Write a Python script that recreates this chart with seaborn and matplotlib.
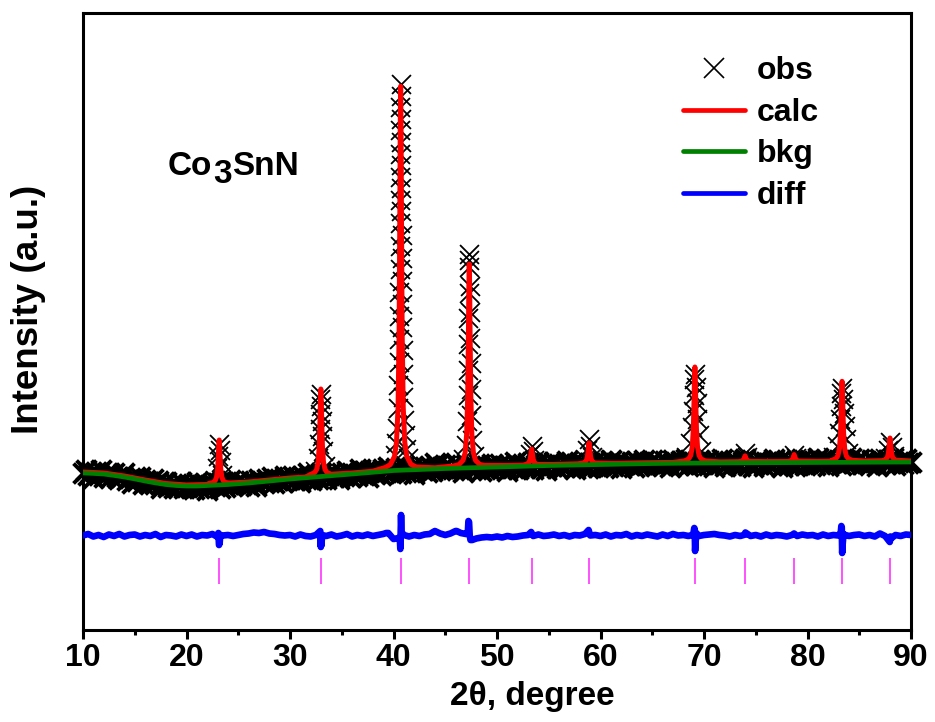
import numpy as np
import pandas as pd
import matplotlib
matplotlib.use("Agg")
import matplotlib.pyplot as plt
from matplotlib.lines import Line2D
from matplotlib.ticker import MultipleLocator
import seaborn as sns

# ---------------- data (intensity in arbitrary units) ----------------
# observed scan, coarse points along the whole range (10-90 deg, 0.25 deg step)
obs_scan_start, obs_scan_stop, obs_scan_step = 10.0, 90.0, 0.25
obs_scan_int = [
    157, 160, 155, 158, 152, 158, 155, 160, 153, 156, 157, 153, 157, 153, 151, 154, 157, 150, 152, 147,
    153, 149, 153, 146, 150, 148, 146, 151, 146, 149, 142, 147, 148, 143, 145, 142, 146, 143, 148, 142,
    143, 146, 144, 141, 148, 142, 145, 147, 140, 145, 146, 144, 147, 142, 148, 143, 146, 150, 145, 147,
    149, 145, 148, 146, 144, 149, 148, 144, 151, 149, 147, 151, 148, 153, 147, 150, 151, 148, 154, 150,
    151, 154, 150, 153, 148, 154, 151, 157, 150, 153, 155, 151, 157, 153, 151, 155, 158, 153, 155, 151,
    157, 154, 159, 153, 157, 156, 154, 161, 156, 159, 153, 159, 161, 156, 158, 155, 161, 158, 163, 157,
    159, 162, 160, 157, 164, 158, 161, 163, 156, 161, 162, 160, 163, 158, 164, 159, 167, 165, 160, 162,
    165, 160, 163, 161, 167, 164, 162, 158, 165, 163, 160, 164, 161, 166, 159, 162, 164, 161, 166, 162,
    163, 166, 161, 164, 159, 165, 162, 168, 161, 164, 166, 162, 167, 163, 161, 165, 168, 162, 164, 160,
    167, 164, 168, 162, 166, 165, 163, 169, 164, 167, 161, 166, 168, 163, 165, 162, 167, 164, 169, 163,
    165, 168, 166, 163, 170, 164, 167, 169, 162, 166, 167, 165, 168, 163, 169, 164, 166, 170, 165, 167,
    170, 165, 168, 166, 164, 169, 167, 163, 170, 168, 165, 169, 166, 171, 164, 167, 168, 165, 170, 166,
    167, 170, 165, 168, 163, 169, 166, 171, 164, 167, 169, 165, 170, 166, 164, 168, 171, 165, 167, 163,
    169, 166, 170, 164, 168, 167, 165, 171, 166, 169, 163, 168, 170, 165, 167, 164, 169, 166, 171, 165,
    167, 170, 168, 165, 172, 166, 169, 171, 164, 168, 169, 167, 170, 165, 171, 166, 168, 172, 167, 169,
    171, 166, 169, 167, 165, 170, 168, 164, 171, 169, 166, 170, 167, 172, 165, 168, 169, 166, 171, 167,
    168,
]

# observed points across the Bragg peaks
obs_peak_2theta = [
    # (100)
    22.75, 22.98, 23.07, 23.16, 23.22, 23.29, 23.41, 23.76,
    # (110)
    32.46, 32.71, 32.80, 32.86, 32.90, 32.94, 32.98, 33.04, 33.08, 33.13, 33.20, 33.35, 33.80,
    # (111)
    40.10, 40.25, 40.35, 40.42, 40.46, 40.50, 40.52, 40.54, 40.56, 40.58, 40.59, 40.60, 40.61,
    40.62, 40.63, 40.65, 40.66, 40.69, 40.71, 40.73, 40.74, 40.75, 40.76, 40.77, 40.79, 40.80,
    40.81, 40.83, 40.85, 40.87, 40.90, 40.94, 41.00, 41.07, 41.19, 41.37,
    # (200)
    46.73, 46.98, 47.09, 47.15, 47.19, 47.22, 47.24, 47.26, 47.29, 47.32,
    47.34, 47.37, 47.39, 47.42, 47.44, 47.48, 47.53, 47.63, 47.82,
    # (210)
    53.01, 53.20, 53.35, 53.46, 53.62,
    # (211)
    58.55, 58.74, 58.89, 59.00, 59.16,
    # (220)
    68.25, 68.67, 68.83, 68.92, 68.99, 69.06, 69.12, 69.22, 69.29, 69.36, 69.48, 69.74, 70.49,
    # (221)
    73.70, 73.97, 74.15,
    # (310)
    78.45, 78.71, 78.88,
    # (311)
    82.47, 82.89, 83.05, 83.14, 83.21, 83.28, 83.34, 83.44, 83.51, 83.58, 83.70, 83.96, 84.71,
    # (222)
    87.52, 87.77, 87.97, 88.12, 88.33,
]
obs_peak_int = [
    149.8, 161.6, 173.8, 186.0, 179.9, 167.7, 155.5, 147.5,
    159.3, 171.7, 186.5, 201.4, 216.2, 231.0, 236.0, 223.6, 208.8, 193.9, 179.1, 164.2, 156.0,
    175.4, 187.0, 202.5, 221.8, 245.0, 268.0, 291.0, 314.4, 337.6, 360.7, 383.9, 407.0, 430.2,
    453.4, 476.5, 499.7, 522.8, 546.0, 534.4, 511.3, 488.1, 465.0, 441.8, 418.6, 395.5, 372.3,
    349.1, 326.0, 302.8, 279.7, 256.5, 233.3, 210.2, 194.7, 181.2, 171.6,
    170.6, 185.5, 209.1, 234.8, 260.4, 286.1, 311.8, 337.5, 363.2, 376.0,
    369.6, 343.9, 318.2, 292.5, 266.9, 241.2, 215.5, 189.8, 173.8,
    168.4, 175.6, 184.0, 178.6, 170.2,
    170.9, 180.3, 191.0, 184.2, 173.3,
    173.2, 186.6, 202.6, 218.6, 234.6, 250.7, 256.0, 242.7, 226.6, 210.6, 194.6, 178.6, 169.7,
    170.2, 177.5, 173.2,
    169.8, 175.5, 172.2,
    172.9, 184.0, 197.3, 210.6, 223.9, 237.3, 241.7, 230.6, 217.3, 204.0, 190.6, 177.3, 170.0,
    172.4, 179.9, 188.5, 183.0, 174.3,
]

# calculated profile
calc_2theta = [
    10, 12, 14, 16, 18, 20, 22,
    22.16, 22.56, 22.76, 22.91, 23.01, 23.08, 23.12, 23.16, 23.20, 23.24, 23.31, 23.41, 23.56, 23.76, 24.16,
    26, 28, 30, 31.5,
    31.98, 32.38, 32.58, 32.73, 32.83, 32.90, 32.94, 32.98, 33.02, 33.06, 33.13, 33.23, 33.38, 33.58, 33.98,
    36, 38, 39.2,
    39.69, 40.09, 40.29, 40.44, 40.54, 40.61, 40.65, 40.69, 40.73, 40.77, 40.84, 40.94, 41.09, 41.29, 41.69,
    42.2, 44, 45.8,
    46.32, 46.72, 46.92, 47.07, 47.17, 47.24, 47.28, 47.32, 47.36, 47.40, 47.47, 47.57, 47.72, 47.92, 48.32,
    48.8, 51, 52.5,
    52.75, 52.95, 53.10, 53.20, 53.27, 53.35, 53.43, 53.50, 53.60, 53.75, 53.95,
    55.5, 57.8,
    58.29, 58.49, 58.64, 58.74, 58.81, 58.89, 58.97, 59.04, 59.14, 59.29, 59.49,
    61, 64, 67,
    68.12, 68.52, 68.72, 68.87, 68.97, 69.04, 69.08, 69.12, 69.16, 69.20, 69.27, 69.37, 69.52, 69.72, 70.12,
    71.5, 73.3,
    73.57, 73.72, 73.82, 73.90, 73.97, 74.04, 74.12, 74.22, 74.37,
    76, 78.1,
    78.31, 78.46, 78.56, 78.64, 78.71, 78.78, 78.86, 78.96, 79.11,
    81, 82.3,
    82.34, 82.74, 82.94, 83.09, 83.19, 83.26, 83.30, 83.34, 83.38, 83.42, 83.49, 83.59, 83.74, 83.94, 84.34,
    85.5, 87.2,
    87.37, 87.57, 87.72, 87.82, 87.89, 87.93, 87.97, 88.01, 88.05, 88.12, 88.22, 88.37, 88.57,
    90,
]
calc_int = [
    158, 157, 154, 150, 146.5, 145, 145.5,
    146.5, 147.5, 149.1, 153.1, 161.4, 174.8, 184.9, 190.0, 184.9, 174.8, 161.4, 153.1, 149.1, 147.5, 147.0,
    148, 150, 152, 153,
    155.5, 157.4, 160.6, 168.5, 184.8, 211.1, 230.9, 241.0, 230.9, 211.1, 184.8, 168.5, 160.6, 157.4, 155.8,
    157, 158.8, 162.5,
    165.4, 173.4, 187.6, 222.8, 294.8, 411.3, 499.0, 543.8, 499.0, 411.3, 294.8, 222.8, 187.6, 173.4, 165.6,
    163, 162.2, 164,
    165.4, 169.7, 177.2, 195.9, 234.0, 295.8, 342.2, 366.0, 342.2, 295.8, 234.0, 195.9, 177.2, 169.7, 165.6,
    164.6, 164.5, 164.8,
    165.5, 166.1, 167.6, 170.6, 175.5, 181.0, 175.5, 170.6, 167.6, 166.1, 165.6,
    165.6, 166.2,
    166.9, 167.7, 169.6, 173.6, 180.0, 187.2, 180.0, 173.6, 169.6, 167.7, 166.9,
    166.6, 167.2, 167.6,
    169.1, 171.1, 174.6, 183.4, 201.3, 230.1, 251.9, 263.0, 251.9, 230.1, 201.3, 183.4, 174.6, 171.1, 169.1,
    168.1, 168.3,
    168.6, 169.2, 170.3, 172.1, 174.2, 172.1, 170.3, 169.2, 168.6,
    168.4, 168.5,
    168.9, 169.5, 170.9, 173.0, 175.4, 173.0, 170.9, 169.5, 168.9,
    168.6, 168.8,
    169.7, 171.3, 174.3, 181.7, 196.7, 221.0, 239.3, 248.7, 239.3, 221.0, 196.7, 181.7, 174.3, 171.3, 169.7,
    169.0, 169.3,
    169.8, 170.6, 172.7, 177.1, 184.0, 189.3, 192.0, 189.3, 184.0, 177.1, 172.7, 170.6, 169.8,
    169.0,
]

# refined background
bkg_2theta = [10, 11, 12, 13, 14, 15, 16, 17, 18, 19, 20, 21, 22, 24, 26, 28, 30, 33, 36, 40,
              45, 50, 55, 60, 65, 70, 80, 90]
bkg_int = [157, 156.6, 156, 154.6, 153, 151.1, 149, 147.1, 145.5, 144.5, 144, 144, 144.5, 145.5,
           147, 149, 151, 153.5, 156, 159.5, 161.5, 163, 164.5, 165.5, 166.5, 167, 167.5, 168]

# difference curve (offset below the pattern), 0.5 deg step
diff_scan_start, diff_scan_stop, diff_scan_step = 10.0, 90.0, 0.5
diff_scan_int = [
    94.5, 96, 93.5, 95, 93, 95.5, 94, 96, 93.5, 95,
    95.5, 93.5, 95, 94, 96, 93, 95, 94.5, 93.5, 95.5,
    94, 95.5, 93.5, 95, 94.5, 96, 93, 94.5, 95, 94,
    95, 96, 96.5, 97.5, 97, 98, 96.5, 96, 95, 94.5,
    95, 93.5, 95.5, 94, 93.5, 95, 94.5, 94, 95.5, 93.5,
    94.5, 96, 93.5, 95, 94, 95.5, 94, 95, 96, 97,
    91, 92, 95, 93.5, 95, 94, 95.5, 96, 99, 96.5,
    95, 96.5, 99, 97, 96, 90, 91.5, 92.5, 93, 92.5,
    93.5, 92.5, 94, 93, 93.5, 94.5, 95, 94, 95.5, 94,
    94.5, 95.5, 94, 95, 93.5, 95, 94.5, 96, 94.5, 95,
    94, 95.5, 93.5, 95, 94.5, 96, 93.5, 95, 94, 95.5,
    94.5, 93.5, 95.5, 94, 96, 94.5, 95, 94, 95.5, 94,
    95, 95.5, 96, 95, 94.5, 93.5, 95, 94, 95.5, 94,
    95, 93.5, 95.5, 94, 95, 94.5, 93.5, 95, 94, 95.5,
    94.5, 95, 93.5, 95.5, 94, 95, 94.5, 95.5, 94, 95,
    95.5, 94, 95, 93.5, 96.5, 94, 93.5, 95, 94, 95.5,
    95,
]
# difference around the reflections
diff_peak_2theta = [23.08, 23.14, 23.20, 23.26,
                    32.92, 32.98, 33.04, 33.10,
                    39.30, 40.62, 40.66, 40.70, 40.73, 40.78,
                    46.10, 47.18, 47.24, 47.30, 47.36, 47.44, 47.60,
                    53.30, 58.85,
                    69.00, 69.06, 69.10, 69.14, 69.19, 69.26,
                    74.00, 78.70,
                    83.22, 83.27, 83.31, 83.35, 83.40, 83.48,
                    87.95, 88.02]
diff_peak_int = [97, 85, 86.5, 95,
                 99, 83, 85, 95,
                 97, 90, 81, 100, 115, 98,
                 99, 97, 109, 108, 95, 90, 90,
                 98, 100,
                 98, 102, 101, 79, 88, 97,
                 97.5, 96.5,
                 98, 104, 103, 77, 86, 96,
                 88, 91]

# Bragg reflection positions of Co3SnN
hkl_2theta = [23.16, 32.98, 40.69, 47.32, 53.35, 58.89, 69.12, 73.97, 78.71, 83.34, 87.97]
tick_bottom, tick_top = 46, 72

# ---------------- tables ----------------
scan_df = pd.DataFrame({
    "two_theta": np.arange(obs_scan_start, obs_scan_stop + 1e-6, obs_scan_step),
    "intensity": obs_scan_int,
})
peak_df = pd.DataFrame({"two_theta": obs_peak_2theta, "intensity": obs_peak_int})
calc_df = pd.DataFrame({"two_theta": calc_2theta, "intensity": calc_int})
bkg_df = pd.DataFrame({"two_theta": bkg_2theta, "intensity": bkg_int})
diff_df = pd.DataFrame({
    "two_theta": np.concatenate([np.arange(diff_scan_start, diff_scan_stop + 1e-6, diff_scan_step),
                                 diff_peak_2theta]),
    "intensity": np.concatenate([diff_scan_int, diff_peak_int]),
}).sort_values("two_theta")

# ---------------- style ----------------
sns.set_theme(style="ticks")
plt.rcParams["font.family"] = ["Liberation Sans", "DejaVu Sans"]
plt.rcParams["font.weight"] = "bold"
plt.rcParams["axes.labelweight"] = "bold"
plt.rcParams["text.color"] = "black"
plt.rcParams["axes.labelcolor"] = "black"
plt.rcParams["xtick.color"] = "black"
plt.rcParams["xtick.labelcolor"] = "black"

fig = plt.figure(figsize=(9.35, 7.22), dpi=100)
ax = fig.add_axes([83 / 935, 92 / 722, 828 / 935, 617 / 722])

sns.scatterplot(data=scan_df, x="two_theta", y="intensity", marker="x", s=205,
                color="black", linewidth=2.8, ax=ax, zorder=2, clip_on=False, legend=False)
sns.scatterplot(data=peak_df, x="two_theta", y="intensity", marker="x", s=185,
                color="black", linewidth=1.3, ax=ax, zorder=2, clip_on=False, legend=False)
sns.lineplot(data=calc_df, x="two_theta", y="intensity", color="#FF0000", lw=3.6,
             ax=ax, zorder=3, sort=False, estimator=None)
sns.lineplot(data=bkg_df, x="two_theta", y="intensity", color="#008000", lw=3.4,
             ax=ax, zorder=4, sort=False, estimator=None)
sns.lineplot(data=diff_df, x="two_theta", y="intensity", color="#0000FF", lw=4.8,
             ax=ax, zorder=3, sort=False, estimator=None)
ax.vlines(hkl_2theta, tick_bottom, tick_top, color="#FF33FF", lw=1.2, zorder=3)

ax.set_xlim(10, 90)
ax.set_ylim(0, 617)
ax.xaxis.set_major_locator(MultipleLocator(10))
ax.xaxis.set_minor_locator(MultipleLocator(5))
ax.set_yticks([])
ax.tick_params(axis="x", which="major", direction="out", length=6.5, width=2.2,
               labelsize=23, pad=3.0, color="black", labelcolor="black")
ax.tick_params(axis="x", which="minor", direction="out", length=3.6, width=2.2, color="black")
for lab in ax.get_xticklabels():
    lab.set_fontweight("bold")
for side in ["left", "right", "top", "bottom"]:
    ax.spines[side].set_visible(True)
    ax.spines[side].set_linewidth(2.2)
    ax.spines[side].set_color("black")

ax.set_xlabel("2θ, degree", fontsize=24, fontweight="bold", color="black")
ax.set_ylabel("Intensity (a.u.)", fontsize=26.5, fontweight="bold", color="black")
ax.xaxis.set_label_coords(0.543, -0.082)
ax.yaxis.set_label_coords(-0.045, 0.519)

# compound label with the lowered 3
t1 = ax.text(0.1025, 0.7374, "Co", transform=ax.transAxes, fontsize=24,
             fontweight="bold", va="baseline", ha="left", color="black")
t2 = ax.annotate("3", xy=(1, 0), xycoords=t1, xytext=(0.5, -6), textcoords="offset points",
                 fontsize=24, fontweight="bold", va="bottom", ha="left", color="black")
ax.annotate("SnN", xy=(1, 0), xycoords=t2, xytext=(0.5, 6), textcoords="offset points",
            fontsize=24, fontweight="bold", va="bottom", ha="left", color="black")

handles = [
    Line2D([], [], marker="x", color="black", linestyle="none", markersize=14, markeredgewidth=1.2),
    Line2D([], [], color="#FF0000", lw=3.4),
    Line2D([], [], color="#008000", lw=3.4),
    Line2D([], [], color="#0000FF", lw=3.4),
]
ax.legend(handles, ["obs", "calc", "bkg", "diff"], loc="upper left",
          bbox_to_anchor=(0.7246, 0.93), frameon=False,
          handlelength=1.95, handletextpad=0.35, labelspacing=0.36,
          borderpad=0, borderaxespad=0, prop={"weight": "bold", "size": 23},
          labelcolor="black")

fig.savefig("out.png", dpi=100)
